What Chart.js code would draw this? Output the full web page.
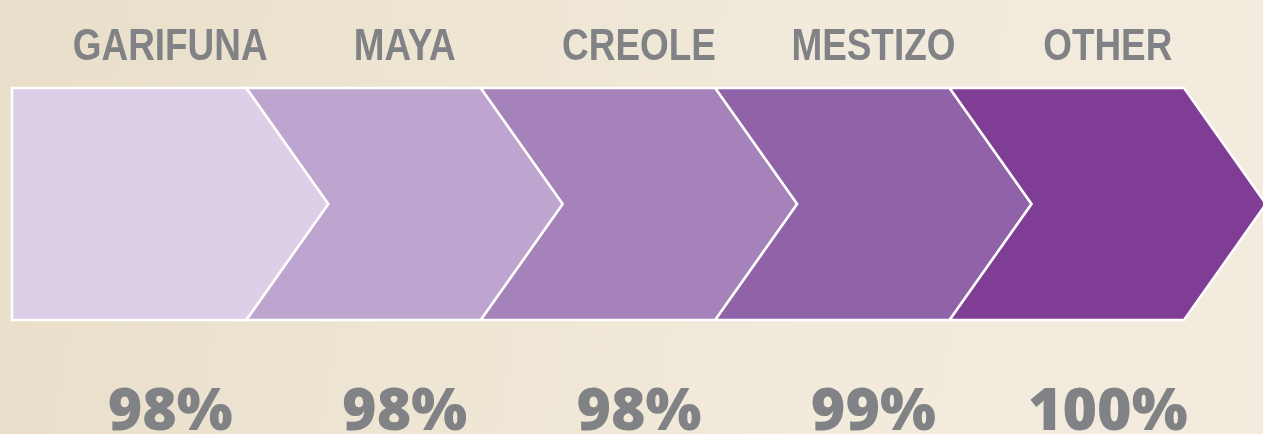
<!DOCTYPE html>
<html>
<head>
<meta charset="utf-8">
<script src="https://cdn.jsdelivr.net/npm/chart.js@4.4.1/dist/chart.umd.min.js"></script>
<style>
html, body { margin: 0; padding: 0; }
body {
    width: 1263px; height: 434px; overflow: hidden;
    background: linear-gradient(100deg, #e8dec9 0%, #eee5d3 35%, #f2eadb 65%, #f3ecde 100%);
}
#wrap { position: relative; width: 1263px; height: 434px; }
</style>
</head>
<body>
<div id="wrap"><canvas id="chevrons"></canvas></div>
<script>
// data
let groups = ['GARIFUNA', 'MAYA', 'CREOLE', 'MESTIZO', 'OTHER'];
let shares = [98, 98, 98, 99, 100];

// look
let fills = ['#dccfe7', '#bea5cf', '#a682bb', '#9062a8', '#7f3d96'];
let text_grey = '#808286';
let tip = 82;

let chevron_plugin = {
    id: 'chevrons',
    beforeDatasetsDraw(chart) {
        let ctx = chart.ctx;
        let area = chart.chartArea;
        let mid = (area.top + area.bottom) / 2;
        let bars = chart.getDatasetMeta(0).data;
        ctx.save();
        bars.forEach(function (bar, i) {
            let left = bar.x - bar.width / 2;
            let right = bar.x + bar.width / 2;
            ctx.beginPath();
            ctx.moveTo(left, area.top);
            ctx.lineTo(right, area.top);
            ctx.lineTo(right + tip, mid);
            ctx.lineTo(right, area.bottom);
            ctx.lineTo(left, area.bottom);
            if (i > 0) ctx.lineTo(left + tip, mid);
            ctx.closePath();
            ctx.fillStyle = fills[i];
            ctx.fill();
            ctx.lineWidth = 2.5;
            ctx.lineJoin = 'miter';
            ctx.strokeStyle = '#ffffff';
            ctx.stroke();
        });
        ctx.fillStyle = text_grey;
        ctx.textAlign = 'center';
        ctx.textBaseline = 'alphabetic';
        // group names above, in a narrowed bold face
        ctx.font = 'bold 45px "Liberation Sans", Arial, sans-serif';
        bars.forEach(function (bar, i) {
            ctx.save();
            ctx.translate(bar.x + tip / 2, 60);
            ctx.scale(0.82, 1);
            ctx.fillText(groups[i], 0, 0);
            ctx.restore();
        });
        // percentages under each chevron
        ctx.font = '800 59px "Open Sans", "DejaVu Sans", sans-serif';
        bars.forEach(function (bar, i) {
            ctx.fillText(shares[i] + '%', bar.x + tip / 2, 430);
        });
        ctx.restore();
        return false;
    }
};

let ctx1 = document.getElementById('chevrons').getContext('2d');
window.myChevrons = new Chart(ctx1, {
    type: 'bar',
    data: {
        labels: groups,
        datasets: [{ label: 'Share', data: shares, backgroundColor: fills }]
    },
    options: {
        responsive: true,
        maintainAspectRatio: false,
        animation: false,
        layout: { padding: { top: 88, left: 12, right: 79, bottom: 114 } },
        datasets: { bar: { barPercentage: 1, categoryPercentage: 1 } },
        plugins: { legend: { display: false }, tooltip: { enabled: false } },
        scales: {
            x: { display: false },
            y: { display: false, min: 0, max: 100 }
        }
    },
    plugins: [chevron_plugin]
});
</script>
</body>
</html>
